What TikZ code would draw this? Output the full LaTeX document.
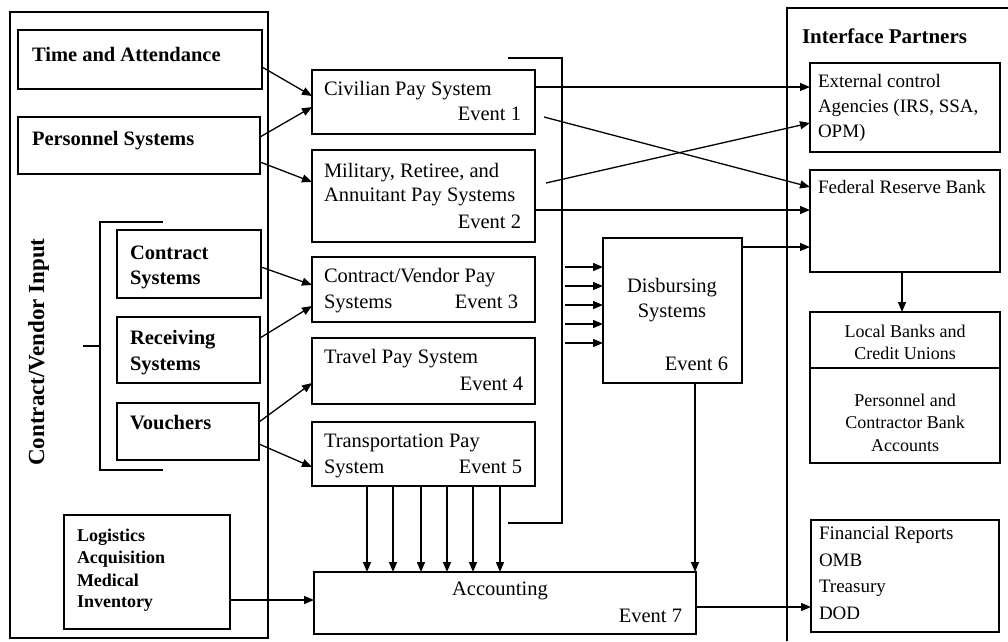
\documentclass[tikz,border=0pt]{standalone}
\usepackage{fontspec}
\setmainfont{Liberation Serif}
\usetikzlibrary{arrows.meta,calc}
\tikzset{
  bx/.style={draw, line width=1.4pt, inner sep=0pt, outer sep=0pt, anchor=north west},
  tbx/.style={bx, line width=2.8pt},
  frame/.style={draw, line width=1.1pt},
  arr/.style={line width=1.3pt, -{Triangle[length=10pt,width=8pt]}},
  ln/.style={line width=1.3pt},
  txt/.style={inner sep=0pt, outer sep=0pt},
  lt/.style={txt, font=\fontsize{20.5}{24}\selectfont\bfseries},
  lts/.style={txt, font=\fontsize{18}{22}\selectfont\bfseries},
  mt/.style={txt, font=\fontsize{20.5}{25}\selectfont},
  rt/.style={txt, font=\fontsize{19}{25}\selectfont},
  rts/.style={txt, font=\fontsize{18}{22}\selectfont},
}
\begin{document}
\begin{tikzpicture}[x=1pt,y=-1pt]
\useasboundingbox (0,0) rectangle (1008,641);

% outer frames
\node[bx, line width=1.1pt, minimum width=258pt, minimum height=626pt] (outerL) at (10,12) {};
\coordinate (rf1) at (1008,8);
\coordinate (rf2) at (787,8);
\coordinate (rf3) at (787,641);
\draw[frame] (rf1) -- (rf2) -- (rf3);

% left input boxes
\node[tbx, minimum width=244pt, minimum height=59pt] (ta) at (18,30) {};
\node[tbx, minimum width=242pt, minimum height=57pt] (ps) at (18,117) {};
\node[tbx, minimum width=144pt, minimum height=68pt] (cs) at (117,230) {};
\node[tbx, minimum width=143pt, minimum height=66pt] (rs) at (117,317) {};
\node[tbx, minimum width=142pt, minimum height=57pt] (vo) at (117,403) {};
\node[tbx, minimum width=166pt, minimum height=114pt] (lg) at (64,515) {};

\node[lt, anchor=base west] (tat) at (32,61) {Time and Attendance};
\node[lt, anchor=base west] (pst) at (32,145) {Personnel Systems};
\node[lt, anchor=base west] (cst1) at (130,259) {Contract};
\node[lt, anchor=base west] (cst2) at (130,284) {Systems};
\node[lt, anchor=base west] (rst1) at (130,344) {Receiving};
\node[lt, anchor=base west] (rst2) at (130,370) {Systems};
\node[lt, anchor=base west] (vot) at (130,429) {Vouchers};
\node[lts, anchor=base west] (lg1) at (77,541) {Logistics};
\node[lts, anchor=base west] (lg2) at (77,563) {Acquisition};
\node[lts, anchor=base west] (lg3) at (77,586) {Medical};
\node[lts, anchor=base west] (lg4) at (77,607) {Inventory};
\node[txt, font=\fontsize{23}{26}\selectfont\bfseries, rotate=90, anchor=base] (cvi) at (44,352) {Contract/Vendor Input};

% contract/vendor bracket
\coordinate (b1) at (163,222);
\coordinate (b2) at (100,222);
\coordinate (b3) at (100,470);
\coordinate (b4) at (163,470);
\coordinate (bt1) at (83,346);
\coordinate (bt2) at (100,346);
\draw[ln] (b1) -- (b2) -- (b3) -- (b4);
\draw[ln] (bt1) -- (bt2);

% pay systems
\node[bx, minimum width=223pt, minimum height=64pt] (civ) at (312,70) {};
\node[bx, minimum width=223pt, minimum height=92pt] (mil) at (312,150) {};
\node[bx, minimum width=223pt, minimum height=65pt] (cv) at (312,257) {};
\node[bx, minimum width=223pt, minimum height=66pt] (tr) at (312,338) {};
\node[bx, minimum width=223pt, minimum height=64pt] (tp) at (312,422) {};
\node[bx, minimum width=139pt, minimum height=145pt] (dis) at (603,238) {};
\node[bx, minimum width=382pt, minimum height=62pt] (acc) at (314,572) {};

\node[mt, anchor=base west] (civt) at (324,95) {Civilian Pay System};
\node[mt, anchor=base east] (ev1) at (521,120) {Event 1};
\node[mt, anchor=base west] (milt1) at (324,177) {Military, Retiree, and};
\node[mt, anchor=base west] (milt2) at (324,201) {Annuitant Pay Systems};
\node[mt, anchor=base east] (ev2) at (521,228) {Event 2};
\node[mt, anchor=base west] (cvt1) at (324,282) {Contract/Vendor Pay};
\node[mt, anchor=base west] (cvt2) at (324,308) {Systems};
\node[mt, anchor=base east] (ev3) at (518,308) {Event 3};
\node[mt, anchor=base west] (trt) at (324,363) {Travel Pay System};
\node[mt, anchor=base east] (ev4) at (523,390) {Event 4};
\node[mt, anchor=base west] (tpt1) at (324,447) {Transportation Pay};
\node[mt, anchor=base west] (tpt2) at (324,473) {System};
\node[mt, anchor=base east] (ev5) at (522,473) {Event 5};
\node[mt, anchor=base] (dist1) at (672,292) {Disbursing};
\node[mt, anchor=base] (dist2) at (672,317) {Systems};
\node[mt, anchor=base east] (ev6) at (728,370) {Event 6};
\node[mt, anchor=base] (acct) at (500,595) {Accounting};
\node[mt, anchor=base east] (ev7) at (682,622) {Event 7};

% bracket around pay systems
\coordinate (p1) at (508,58);
\coordinate (p2) at (562,58);
\coordinate (p3) at (562,523);
\coordinate (p4) at (508,523);
\draw[ln] (p1) -- (p2) -- (p3) -- (p4);

% interface partners
\node[txt, font=\fontsize{21}{25}\selectfont\bfseries, anchor=base west] (ipt) at (802,43) {Interface Partners};
\node[tbx, minimum width=190pt, minimum height=89pt] (ext) at (810,63) {};
\node[tbx, minimum width=190pt, minimum height=102pt] (frb) at (810,170) {};
\node[tbx, minimum width=190pt, minimum height=151pt] (lb) at (810,312) {};
\node[tbx, minimum width=188pt, minimum height=112pt] (fr) at (811,520) {};
\draw[line width=2.8pt] (lb.west |- 0,368) -- (lb.east |- 0,368);

\node[rt, anchor=base west] (ext1) at (818,87) {External control};
\node[rt, anchor=base west] (ext2) at (818,112) {Agencies (IRS, SSA,};
\node[rt, anchor=base west] (ext3) at (818,137) {OPM)};
\node[rt, anchor=base west] (frbt) at (818,193) {Federal Reserve Bank};
\node[rts, anchor=base] (lbt1) at (905,337) {Local Banks and};
\node[rts, anchor=base] (lbt2) at (905,359) {Credit Unions};
\node[rts, anchor=base] (pbt1) at (905,406) {Personnel and};
\node[rts, anchor=base] (pbt2) at (905,428) {Contractor Bank};
\node[rts, anchor=base] (pbt3) at (905,451) {Accounts};
\node[rt, anchor=base west] (fr1) at (819,539) {Financial Reports};
\node[rt, anchor=base west] (fr2) at (819,566) {OMB};
\node[rt, anchor=base west] (fr3) at (819,592) {Treasury};
\node[rt, anchor=base west] (fr4) at (819,619) {DOD};

% left to middle arrows
\draw[arr] (ta.east |- 0,67) -- (civ.west |- 0,96);
\draw[arr] (ps.east |- 0,137) -- (civ.west |- 0,107);
\draw[arr] (ps.east |- 0,162) -- (mil.west |- 0,182);
\draw[arr] (cs.east |- 0,267) -- (cv.west |- 0,285);
\draw[arr] (rs.east |- 0,338) -- (cv.west |- 0,306);
\draw[arr] (vo.east |- 0,422) -- (tr.west |- 0,383);
\draw[arr] (vo.east |- 0,444) -- (tp.west |- 0,467);

% middle to interface partners
\draw[arr] (civ.east |- 0,87) -- (ext.west |- 0,87);
\draw[arr] ($(civ.east |- 0,117)+(9,0)$) -- (frb.west |- 0,187);
\draw[arr] ($(mil.east |- 0,183)+(11,0)$) -- (ext.west |- 0,123);
\draw[arr] (mil.east |- 0,210) -- (frb.west |- 0,210);

% bracket to disbursing
\foreach \yy in {267,286,305,324,343} {
  \draw[arr] ($(p2 |- 0,\yy)+(3,0)$) -- (dis.west |- 0,\yy);
}
\draw[arr] (dis.east |- 0,247) -- (frb.west |- 0,247);
\draw[arr] (695,0 |- dis.south) -- (695,0 |- acc.north);
\draw[arr] (902,0 |- frb.south) -- (902,0 |- lb.north);

% transport to accounting
\foreach \xx in {367,393,421,447,473,500} {
  \draw[arr] (\xx,0 |- tp.south) -- (\xx,0 |- acc.north);
}
\draw[arr] (lg.east |- 0,600) -- (acc.west |- 0,600);
\draw[arr] (acc.east |- 0,607) -- (fr.west |- 0,607);
\end{tikzpicture}
\end{document}
